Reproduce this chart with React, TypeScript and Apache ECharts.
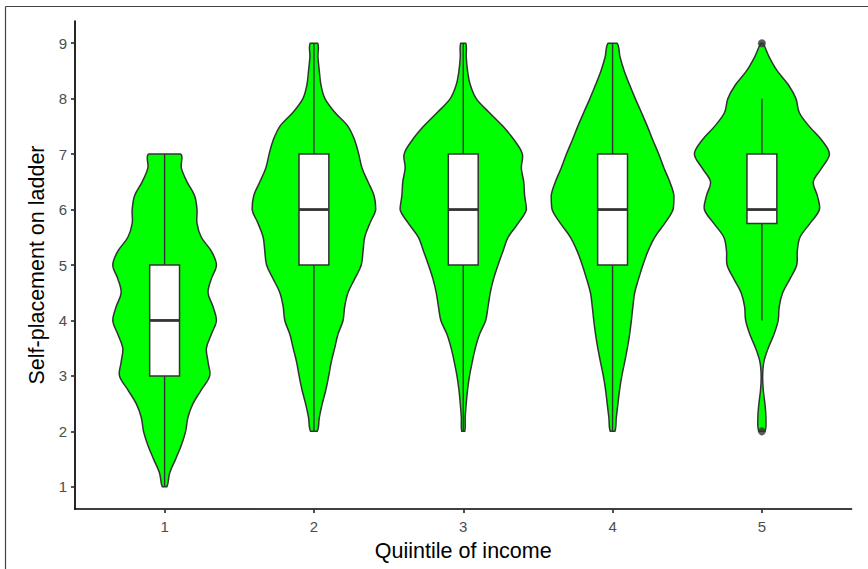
import React, { useEffect, useRef } from "react";
import * as echarts from "echarts";

// Categories and tick labels
const quintiles = ["1", "2", "3", "4", "5"];
const ladderTicks = [1, 2, 3, 4, 5, 6, 7, 8, 9];

// Levels at which violin half-widths were read (ladder score)
const densityLevels = [
  1, 1.25, 1.5, 1.75, 2, 2.25, 2.5, 2.75, 3, 3.25, 3.5, 3.75, 4, 4.25, 4.5, 4.75,
  5, 5.25, 5.5, 5.75, 6, 6.25, 6.5, 6.75, 7, 7.25, 7.5, 7.75, 8, 8.25, 8.5, 8.75, 9,
];

// Violin half-widths (in units of the spacing between quintiles), null outside data range
const violinQ1 = [
  0.015, 0.034, 0.074, 0.112, 0.141, 0.156, 0.19, 0.246, 0.302, 0.291, 0.28, 0.313, 0.347,
  0.324, 0.291, 0.313, 0.347, 0.313, 0.246, 0.217, 0.217, 0.201, 0.15, 0.112, 0.107,
  null, null, null, null, null, null, null, null,
];
const violinQ2 = [
  null, null, null, null,
  0.022, 0.036, 0.056, 0.08, 0.099, 0.116, 0.139, 0.161, 0.195, 0.206, 0.228, 0.273, 0.317,
  0.329, 0.34, 0.374, 0.414, 0.403, 0.362, 0.322, 0.3, 0.273, 0.228, 0.141, 0.074, 0.047,
  0.036, 0.027, 0.025,
];
const violinQ3 = [
  null, null, null, null,
  0.01, 0.013, 0.02, 0.029, 0.042, 0.06, 0.081, 0.109, 0.15, 0.166, 0.181, 0.203, 0.233,
  0.266, 0.3, 0.367, 0.423, 0.411, 0.405, 0.389, 0.396, 0.342, 0.266, 0.174, 0.087, 0.047,
  0.029, 0.02, 0.017,
];
const violinQ4 = [
  null, null, null, null,
  0.015, 0.025, 0.036, 0.047, 0.062, 0.081, 0.099, 0.114, 0.126, 0.136, 0.148, 0.174, 0.203,
  0.237, 0.282, 0.349, 0.405, 0.411, 0.383, 0.344, 0.309, 0.27, 0.233, 0.193, 0.152, 0.114,
  0.078, 0.05, 0.03,
];
const violinQ5 = [
  null, null, null, null,
  0.02, 0.027, 0.02, 0.009, 0.005, 0.013, 0.042, 0.081, 0.109, 0.116, 0.139, 0.188, 0.233,
  0.237, 0.255, 0.322, 0.385, 0.371, 0.344, 0.401, 0.452, 0.401, 0.317, 0.25, 0.228, 0.177,
  0.103, 0.049, 0.007,
];
const violins = [violinQ1, violinQ2, violinQ3, violinQ4, violinQ5];

// Boxplot statistics
const boxMin = [1, 2, 2, 2, 4];
const boxQ1 = [3, 5, 5, 5, 5.75];
const boxMedian = [4, 6, 6, 6, 6];
const boxQ3 = [5, 7, 7, 7, 7];
const boxMax = [7, 9, 9, 9, 8];
const outliers = [
  [5, 9],
  [5, 2],
];

const FONT = "'Liberation Sans', Arial, Helvetica, sans-serif";
const LINE = "#333333";

export default function App() {
  const ref = useRef<HTMLDivElement>(null);

  useEffect(() => {
    document.body.style.margin = "0";
    const chart = echarts.init(ref.current!, null, { renderer: "svg" });

    const baseData = quintiles.map((_, i) => [i + 1, boxMedian[i]]);

    const option: any = {
      animation: false,
      backgroundColor: "#ffffff",
      textStyle: { fontFamily: FONT },
      grid: { left: 75, right: 16.5, top: 21, bottom: 60, containLabel: false },
      graphic: [
        {
          type: "line",
          shape: { x1: 5.5, y1: 6.5, x2: 868, y2: 6.5 },
          style: { stroke: "#444444", lineWidth: 1.2 },
          silent: true,
        },
        {
          type: "line",
          shape: { x1: 5.5, y1: 6.5, x2: 5.5, y2: 569 },
          style: { stroke: "#444444", lineWidth: 1.2 },
          silent: true,
        },
      ],
      xAxis: {
        type: "value",
        min: 0.4,
        max: 5.6,
        name: "Quiintile of income",
        nameLocation: "middle",
        nameGap: 31,
        nameTextStyle: { color: "#000000", fontSize: 21.5, fontFamily: FONT },
        axisLine: { show: true, lineStyle: { color: "#000000", width: 1.7 } },
        axisTick: {
          show: true,
          length: 4,
          customValues: quintiles.map((_, i) => i + 1),
          lineStyle: { color: LINE, width: 1.7 },
        },
        axisLabel: {
          customValues: quintiles.map((_, i) => i + 1),
          formatter: (v: number) => quintiles[Math.round(v) - 1] ?? "",
          color: "#4D4D4D",
          fontSize: 15,
          margin: 10,
          fontFamily: FONT,
        },
        splitLine: { show: false },
      },
      yAxis: {
        type: "value",
        min: 0.6,
        max: 9.4,
        name: "Self-placement on ladder",
        nameLocation: "middle",
        nameGap: 22,
        nameTextStyle: { color: "#000000", fontSize: 21.5, fontFamily: FONT },
        axisLine: { show: true, lineStyle: { color: "#000000", width: 1.7 } },
        axisTick: {
          show: true,
          length: 4,
          customValues: ladderTicks,
          lineStyle: { color: LINE, width: 1.7 },
        },
        axisLabel: {
          customValues: ladderTicks,
          formatter: (v: number) => String(v),
          color: "#4D4D4D",
          fontSize: 15,
          margin: 8,
          fontFamily: FONT,
        },
        splitLine: { show: false },
      },
      series: [
        {
          type: "custom",
          name: "violin",
          data: baseData,
          encode: { x: 0, y: 1 },
          renderItem: (params: any, api: any) => {
            const gi = params.dataIndex;
            const x = api.value(0);
            const widths = violins[gi];
            const unit = api.size([1, 0])[0];
            const left: number[][] = [];
            const right: number[][] = [];
            densityLevels.forEach((lv, k) => {
              const w = widths[k];
              if (w == null) return;
              const c = api.coord([x, lv]);
              left.push([c[0] - w * unit, c[1]]);
              right.push([c[0] + w * unit, c[1]]);
            });
            const points = left.concat(right.reverse());
            const bb = [points[0].slice(), points[0].slice()];
            return {
              type: "polygon",
              shape: { points, smooth: 0.35, smoothConstraint: bb },
              style: { fill: "#00FF00", stroke: LINE, lineWidth: 1.5 },
            };
          },
          z: 2,
        },
        {
          type: "custom",
          name: "box",
          data: baseData,
          encode: { x: 0, y: 1 },
          renderItem: (params: any, api: any) => {
            const i = params.dataIndex;
            const x = api.value(0);
            const unit = api.size([1, 0])[0];
            const half = 0.1 * unit;
            const pMax = api.coord([x, boxMax[i]]);
            const pQ3 = api.coord([x, boxQ3[i]]);
            const pMed = api.coord([x, boxMedian[i]]);
            const pQ1 = api.coord([x, boxQ1[i]]);
            const pMin = api.coord([x, boxMin[i]]);
            const lineStyle = { stroke: LINE, lineWidth: 1.4 };
            return {
              type: "group",
              children: [
                {
                  type: "line",
                  shape: { x1: pQ3[0], y1: pQ3[1], x2: pMax[0], y2: pMax[1] },
                  style: lineStyle,
                },
                {
                  type: "line",
                  shape: { x1: pQ1[0], y1: pQ1[1], x2: pMin[0], y2: pMin[1] },
                  style: lineStyle,
                },
                {
                  type: "rect",
                  shape: { x: pQ3[0] - half, y: pQ3[1], width: 2 * half, height: pQ1[1] - pQ3[1] },
                  style: { fill: "#ffffff", stroke: LINE, lineWidth: 1.5 },
                },
                {
                  type: "line",
                  shape: { x1: pMed[0] - half, y1: pMed[1], x2: pMed[0] + half, y2: pMed[1] },
                  style: { stroke: LINE, lineWidth: 2.8 },
                },
              ],
            };
          },
          z: 3,
        },
        {
          type: "scatter",
          name: "outliers",
          data: outliers,
          symbol: "circle",
          symbolSize: 8,
          itemStyle: { color: LINE },
          z: 4,
        },
      ],
    };

    chart.setOption(option);
    return () => chart.dispose();
  }, []);

  return (
    <div
      ref={ref}
      style={{ position: "fixed", left: 0, top: 0, width: 868, height: 569, background: "#fff" }}
    />
  );
}
